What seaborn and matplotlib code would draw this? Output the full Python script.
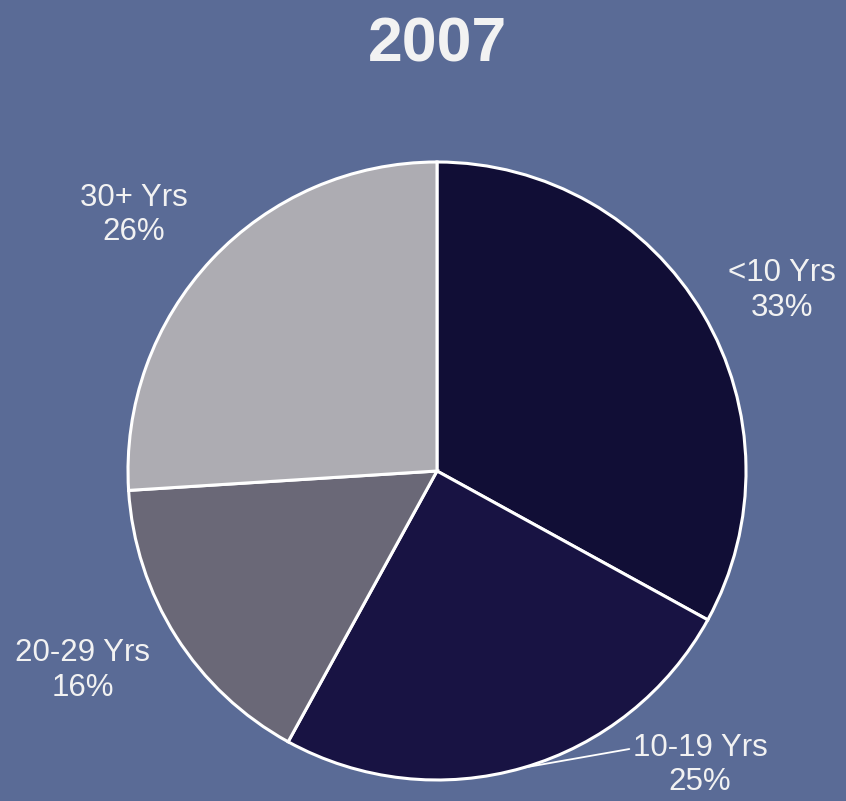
import matplotlib
matplotlib.use("Agg")
import numpy as np
import matplotlib.pyplot as plt
import seaborn as sns

# data
categories = ["<10 Yrs", "10-19 Yrs", "20-29 Yrs", "30+ Yrs"]
shares = [33, 25, 16, 26]
title = "2007"

# colours
bg = "#5a6b96"
slice_colors = ["#110e36", "#181343", "#6a6877", "#adacb2"]
text_color = "#f2f2f2"

# label spots (pie radius = 1)
label_pos = [(1.115, 0.585), (0.851, -0.951), (-1.146, -0.645), (-0.980, 0.828)]

sns.set_style("white")
plt.rcParams['font.family'] = ['Liberation Sans', 'DejaVu Sans']

fig = plt.figure(figsize=(8.46, 8.01), dpi=100, facecolor=bg)
ax = fig.add_axes([0, 0, 1, 1])
ax.set_facecolor(bg)

wedges, _ = ax.pie(shares, colors=slice_colors, startangle=90, counterclock=False,
                   wedgeprops={'linewidth': 2.2, 'edgecolor': 'white'})

for w, cat, val, pos in zip(wedges, categories, shares, label_pos):
    txt = f"{cat}\n{val}%"
    if cat == "10-19 Yrs":
        mid = np.deg2rad((w.theta1 + w.theta2) / 2)
        ax.annotate(txt, xy=(np.cos(mid), np.sin(mid)), xytext=pos,
                    ha='center', va='center', fontsize=22.5, color=text_color,
                    linespacing=1.2,
                    arrowprops=dict(arrowstyle='-', color='white', lw=1.3,
                                    relpos=(0.0, 0.78), shrinkA=0, shrinkB=0,
                                    connectionstyle='angle,angleA=0,angleB=10,rad=0'))
    else:
        ax.text(pos[0], pos[1], txt, ha='center', va='center', fontsize=22.5,
                color=text_color, linespacing=1.2)

ax.text(0, 1.38, title, ha='center', va='center', fontsize=45,
        fontweight='bold', color=text_color)

ax.set_xlim(-437 / 309, 409 / 309)
ax.set_ylim(-330 / 309, 471 / 309)
ax.set_aspect('equal')
ax.axis('off')

fig.savefig("out.png", dpi=100, facecolor=bg)
